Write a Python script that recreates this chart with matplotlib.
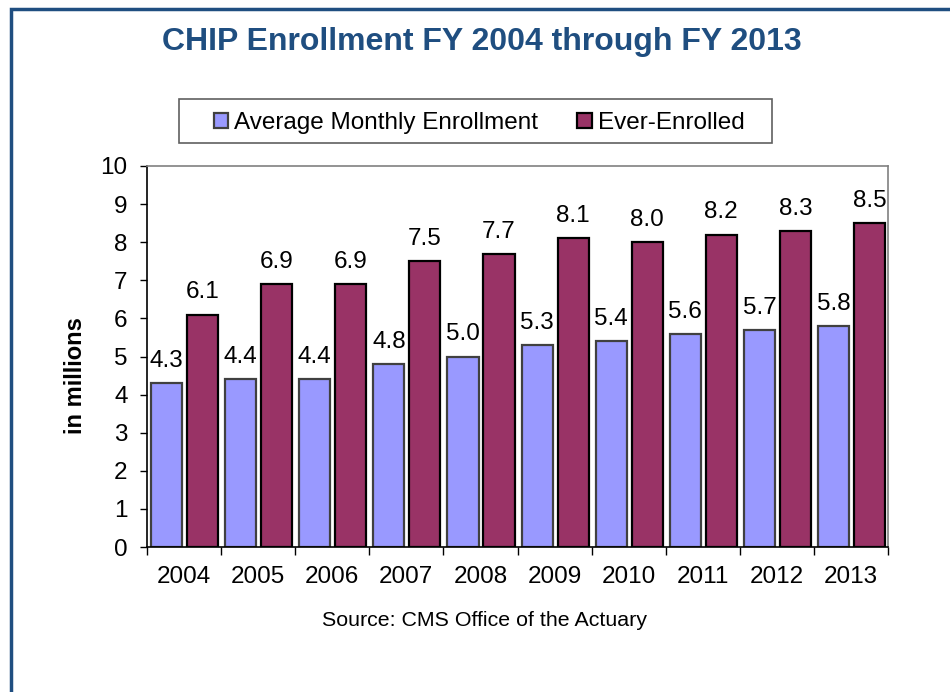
import numpy as np
import matplotlib
matplotlib.use("Agg")
import matplotlib.pyplot as plt
from matplotlib.patches import Rectangle

plt.rcParams['font.family'] = ['Liberation Sans', 'DejaVu Sans']

years = ["2004", "2005", "2006", "2007", "2008", "2009", "2010", "2011", "2012", "2013"]
avg_monthly = [4.3, 4.4, 4.4, 4.8, 5.0, 5.3, 5.4, 5.6, 5.7, 5.8]
ever_enrolled = [6.1, 6.9, 6.9, 7.5, 7.7, 8.1, 8.0, 8.2, 8.3, 8.5]
series_names = ["Average Monthly Enrollment", "Ever-Enrolled"]

light = "#9999FF"
dark = "#993366"
navy = "#1F4E80"
fs = 17.5

fig = plt.figure(figsize=(9.5, 6.92), dpi=100)
ax = fig.add_axes([147 / 950, 1 - 547 / 692, (888 - 147) / 950, (547 - 166) / 692])

x = np.arange(len(years)) + 0.5
w = 0.42
b1 = ax.bar(x - 0.235, avg_monthly, w, color=light, edgecolor="#404040", linewidth=1.6,
            label=series_names[0])
b2 = ax.bar(x + 0.25, ever_enrolled, w, color=dark, edgecolor="black", linewidth=1.6,
            label=series_names[1])
ax.bar_label(b1, labels=[f"{v:.1f}" for v in avg_monthly], padding=8, fontsize=fs)
ax.bar_label(b2, labels=[f"{v:.1f}" for v in ever_enrolled], padding=8, fontsize=fs)

ax.set_xlim(0, len(years))
ax.set_ylim(0, 10)
ax.set_yticks(range(0, 11))
ax.tick_params(axis="y", direction="out", length=5, width=1, labelsize=fs, pad=9)
ax.set_xticks(x)
ax.set_xticklabels(years)
ax.set_xticks(np.arange(len(years) + 1), minor=True)
ax.tick_params(axis="x", which="major", length=0, labelsize=fs, pad=14)
ax.tick_params(axis="x", which="minor", direction="out", length=6, width=1)

for s in ["top", "right"]:
    ax.spines[s].set_color("#808080")
    ax.spines[s].set_linewidth(1.2)
for s in ["left", "bottom"]:
    ax.spines[s].set_color("black")
    ax.spines[s].set_linewidth(1.2)

fig.text(75 / 950, 1 - 376 / 692, "in millions", rotation=90, fontsize=17,
         fontweight="bold", ha="center", va="center")

fig.text(482 / 950, 1 - 42 / 692, "CHIP Enrollment FY 2004 through FY 2013",
         fontsize=23, fontweight="bold", color=navy, ha="center", va="center")

fig.text(484 / 950, 1 - 620 / 692, "Source: CMS Office of the Actuary",
         fontsize=15.4, ha="center", va="center")

# legend box drawn separately so its padding matches
fig.add_artist(Rectangle((179 / 950, 1 - 143 / 692), (772 - 179) / 950, 44 / 692,
                         transform=fig.transFigure, fill=False, edgecolor="#606060",
                         linewidth=1.2))
fig.legend(loc="center", bbox_to_anchor=(479 / 950, 1 - 123 / 692), ncol=2,
           fontsize=fs, frameon=False,
           handlelength=0.6, handleheight=0.6, handletextpad=0.25,
           columnspacing=1.6, borderpad=0.2)

# blue page frame
fig.add_artist(Rectangle((11 / 950, -0.2), 1.5, 1.2 - 9 / 692, transform=fig.transFigure,
                         fill=False, edgecolor=navy, linewidth=2.5))

fig.savefig("out.png", dpi=100)
